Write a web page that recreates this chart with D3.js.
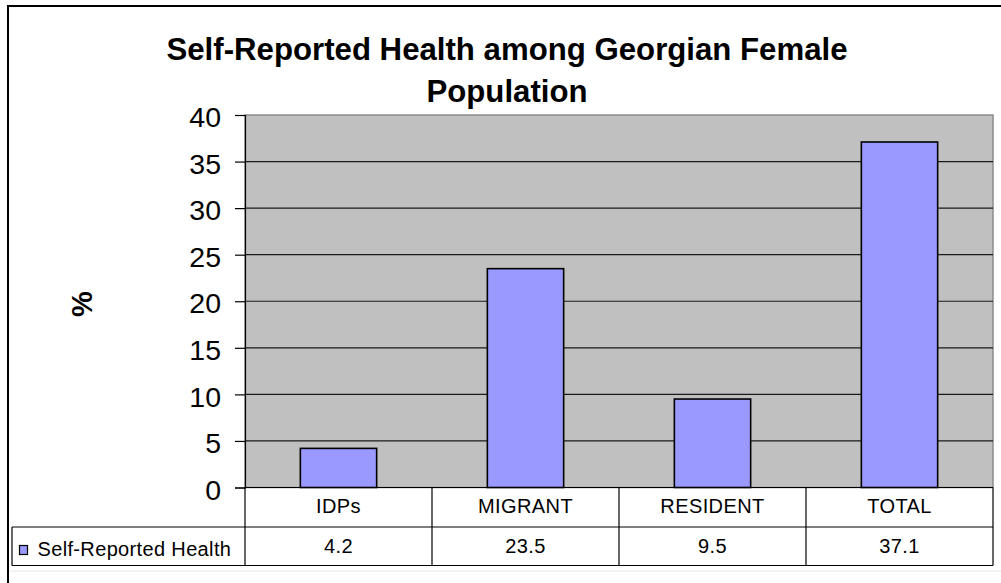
<!DOCTYPE html>
<html>
<head>
<meta charset="utf-8">
<script src="https://cdn.jsdelivr.net/npm/d3@7"></script>
<style>
  html, body { margin: 0; padding: 0; background: #fff; }
  svg { display: block; font-family: "Liberation Sans", Arial, sans-serif; }
</style>
</head>
<body>
<svg id="chart" width="1001" height="583"></svg>
<script>
// ---- data ----
const categories = ["IDPs", "MIGRANT", "RESIDENT", "TOTAL"];
const values = [4.2, 23.5, 9.5, 37.1];
const valueLabels = ["4.2", "23.5", "9.5", "37.1"];
const seriesName = "Self-Reported Health";
const yTicks = [0, 5, 10, 15, 20, 25, 30, 35, 40];
const titleLines = ["Self-Reported Health among Georgian Female", "Population"];
const yTitle = "%";

// ---- layout ----
const svg = d3.select("#chart");
const plot = { left: 245, right: 993, top: 115, bottom: 487.5 };
const table = { legendLeft: 12, row1Bottom: 527, row2Bottom: 565.5 };

svg.append("rect").attr("width", 1001).attr("height", 583).attr("fill", "#fff");
// outer chart border (only left/top visible)
svg.append("rect").attr("x", 8).attr("y", 6).attr("width", 1100).attr("height", 700)
  .attr("fill", "none").attr("stroke", "#000").attr("stroke-width", 2);

const x = d3.scaleBand().domain(categories).range([plot.left, plot.right])
  .paddingInner(0.592).paddingOuter(0.296);
const xCol = d3.scaleBand().domain(categories).range([plot.left, plot.right]).padding(0);
const y = d3.scaleLinear().domain([0, 40]).range([plot.bottom, plot.top]);

// plot area
svg.append("rect")
  .attr("x", plot.left).attr("y", plot.top)
  .attr("width", plot.right - plot.left).attr("height", plot.bottom - plot.top)
  .attr("fill", "#C0C0C0").attr("stroke", "#8c8c8c").attr("stroke-width", 1.5);

// gridlines
svg.append("g").selectAll("line").data(yTicks.filter(d => d > 0 && d < 40)).join("line")
  .attr("x1", plot.left).attr("x2", plot.right)
  .attr("y1", d => y(d)).attr("y2", d => y(d))
  .attr("stroke", "#1a1a1a").attr("stroke-width", 1.2);

// bars
svg.append("g").selectAll("rect").data(values).join("rect")
  .attr("x", (d, i) => x(categories[i]))
  .attr("width", x.bandwidth())
  .attr("y", d => y(d))
  .attr("height", d => y(0) - y(d))
  .attr("fill", "#9999FF").attr("stroke", "#000").attr("stroke-width", 1.6);

// y axis
const yAxis = d3.axisLeft(y).tickValues(yTicks).tickSize(10).tickPadding(14);
const gy = svg.append("g").attr("transform", `translate(${plot.left},0)`).call(yAxis);
gy.select(".domain").attr("stroke", "#000").attr("stroke-width", 1.2);
gy.selectAll(".tick line").attr("stroke", "#000").attr("stroke-width", 1.2);
gy.selectAll(".tick text")
  .attr("font-family", "'Liberation Sans', Arial, sans-serif")
  .attr("font-size", 28.5).attr("fill", "#000").attr("dy", "0.41em");

// y title
svg.append("text").attr("transform", "translate(91.5,304) rotate(-90)")
  .attr("text-anchor", "middle").attr("font-size", 29).attr("font-weight", "bold")
  .text(yTitle);

// title
svg.append("g").selectAll("text").data(titleLines).join("text")
  .attr("x", 507).attr("y", (d, i) => 60 + i * 41.7)
  .attr("text-anchor", "middle").attr("font-size", 31.2).attr("font-weight", "bold")
  .text(d => d);

// data table
const tg = svg.append("g").attr("stroke", "#000").attr("stroke-width", 1.2);
tg.append("line").attr("x1", plot.left).attr("x2", plot.right).attr("y1", plot.bottom).attr("y2", plot.bottom);
tg.append("line").attr("x1", table.legendLeft).attr("x2", plot.right).attr("y1", table.row1Bottom).attr("y2", table.row1Bottom);
tg.append("line").attr("x1", table.legendLeft).attr("x2", plot.right).attr("y1", table.row2Bottom).attr("y2", table.row2Bottom);
const colEdges = categories.map(c => xCol(c)).concat([plot.right]);
tg.selectAll("line.v").data(colEdges).join("line").attr("class", "v")
  .attr("x1", d => d).attr("x2", d => d)
  .attr("y1", plot.bottom).attr("y2", table.row2Bottom);
tg.append("line").attr("x1", table.legendLeft).attr("x2", table.legendLeft)
  .attr("y1", table.row1Bottom).attr("y2", table.row2Bottom);

// faint lower edge
svg.append("line").attr("x1", 9).attr("x2", 1001).attr("y1", 571).attr("y2", 571)
  .attr("stroke", "#e6e6e6").attr("stroke-width", 1);

// category labels
svg.append("g").selectAll("text").data(categories).join("text")
  .attr("x", d => xCol(d) + xCol.bandwidth() / 2).attr("y", 512.5)
  .attr("text-anchor", "middle").attr("font-size", 20).attr("letter-spacing", 0.4).attr("fill", "#000")
  .text(d => d);
// values
svg.append("g").selectAll("text").data(valueLabels).join("text")
  .attr("x", (d, i) => xCol(categories[i]) + xCol.bandwidth() / 2).attr("y", 552.7)
  .attr("text-anchor", "middle").attr("font-size", 20).attr("letter-spacing", 0.4).attr("fill", "#000")
  .text(d => d);

// legend key
svg.append("rect").attr("x", 19.5).attr("y", 545.5).attr("width", 8).attr("height", 9)
  .attr("fill", "#9999FF").attr("stroke", "#000").attr("stroke-width", 1.2);
svg.append("text").attr("x", 37.5).attr("y", 555.5).attr("font-size", 20).attr("letter-spacing", 0.35).attr("fill", "#000")
  .text(seriesName);
</script>
</body>
</html>
